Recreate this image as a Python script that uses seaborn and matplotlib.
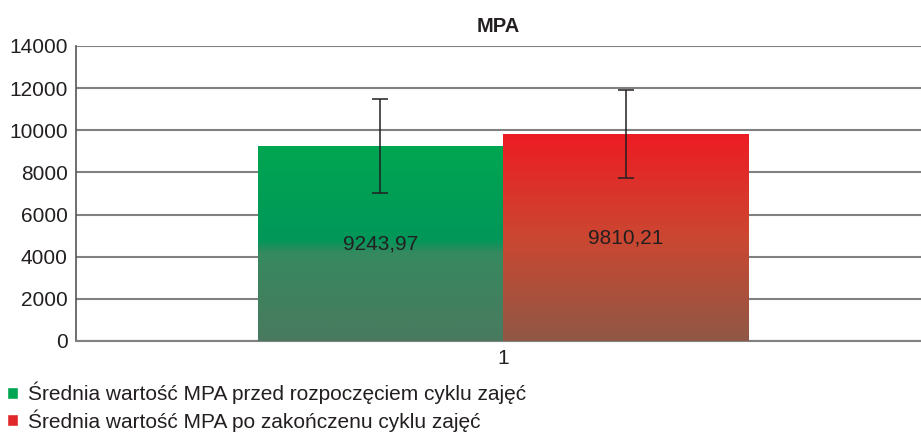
import numpy as np
import pandas as pd
import seaborn as sns
import matplotlib.pyplot as plt
from matplotlib.colors import LinearSegmentedColormap
from matplotlib.patches import Patch

# dane
kategorie = ['1', '1']
serie = ['Średnia wartość MPA przed rozpoczęciem cyklu zajęć',
         'Średnia wartość MPA po zakończenu cyklu zajęć']
wartosci = [9243.97, 9810.21]
bledy = [2230, 2080]
etykiety = ['9243,97', '9810,21']
y_ticks = [0, 2000, 4000, 6000, 8000, 10000, 12000, 14000]

df = pd.DataFrame({'kat': kategorie, 'seria': serie, 'mpa': wartosci})

sns.set_style('white')
plt.rcParams['font.family'] = ['Liberation Sans', 'DejaVu Sans']

# gradienty (od dołu do góry)
grad_green = LinearSegmentedColormap.from_list(
    'g', [(0, '#4a7a5f'), (0.45, '#36895f'), (0.52, '#00975a'), (1, '#00a651')])
grad_red = LinearSegmentedColormap.from_list(
    'r', [(0, '#8f5845'), (0.5, '#cb4731'), (1, '#ed1c24')])

fig = plt.figure(figsize=(9.21, 4.34), dpi=100)
ax = fig.add_axes([76 / 921, 1 - 341 / 434, 845 / 921, 295 / 434])

sns.barplot(data=df, x='kat', y='mpa', hue='seria', palette=['#00a651', '#ed1c24'],
            width=0.8, legend=False, ax=ax, errorbar=None, zorder=2)

gradient = np.linspace(0, 1, 256).reshape(-1, 1)
for patch, cmap, err, lab, val in zip(ax.patches, [grad_green, grad_red], bledy, etykiety, wartosci):
    x0 = patch.get_x()
    w = patch.get_width()
    h = patch.get_height()
    im = ax.imshow(gradient, extent=[x0, x0 + w, 0, h], origin='lower', aspect='auto',
                   cmap=cmap, zorder=3)
    im.set_clip_path(patch)
    patch.set_alpha(0)
    ax.errorbar(x0 + w / 2, h, yerr=err, fmt='none', ecolor='#231f20', elinewidth=1.1,
                capsize=6, capthick=1.1, zorder=4)
    ax.text(x0 + w / 2, val / 2, lab, ha='center', va='center', fontsize=15,
            color='#231f20', zorder=5)

ax.set_xlim(-0.696, 0.681)
ax.set_ylim(0, 14000)
ax.set_yticks(y_ticks)
ax.set_yticklabels([str(t) for t in y_ticks])
ax.yaxis.grid(True, color='#808080', linewidth=1.5, zorder=0)
ax.set_axisbelow(True)
ax.tick_params(axis='both', labelsize=15, colors='#231f20', length=0, pad=6)
ax.set_xlabel('')
ax.set_ylabel('')
ax.set_title('MPA', fontsize=14.5, fontweight='bold', color='#231f20', pad=10)

for s in ['top', 'right']:
    ax.spines[s].set_visible(False)
ax.spines['left'].set_color('#555555')
ax.spines['bottom'].set_color('#808080')
ax.spines['left'].set_linewidth(1.2)
ax.spines['bottom'].set_linewidth(1.5)

handles = [Patch(facecolor='#00a651'), Patch(facecolor='#e0282a')]
fig.legend(handles, serie, loc='lower left', bbox_to_anchor=(-0.008, -0.028), frameon=False,
           fontsize=15, handlelength=0.5, handleheight=0.5, handletextpad=0.5,
           labelspacing=0.22, borderaxespad=0.3, labelcolor='#231f20')

fig.savefig('out.png', dpi=100)
